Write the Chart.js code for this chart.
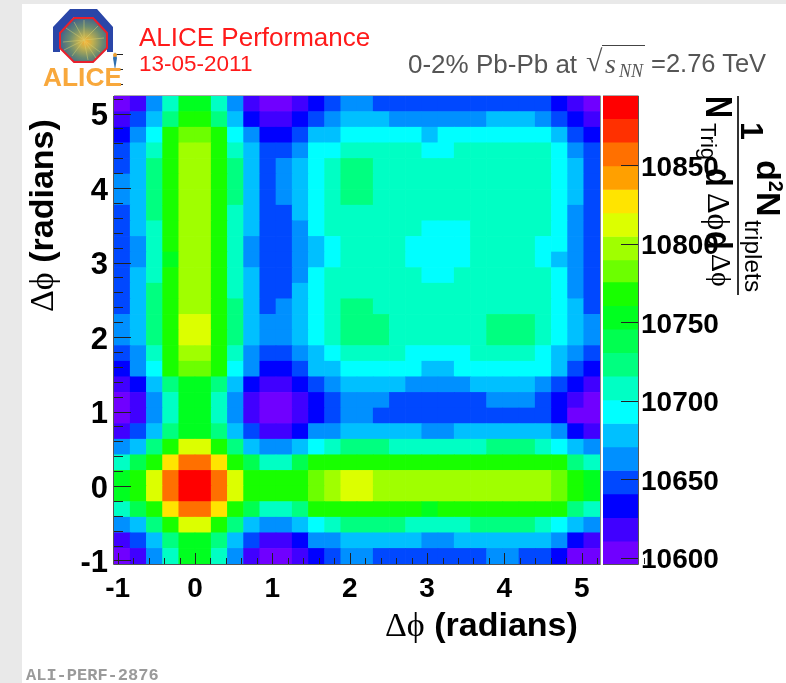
<!DOCTYPE html>
<html>
<head>
<meta charset="utf-8">
<title>ALICE Performance</title>
<script src="https://cdn.jsdelivr.net/npm/chart.js@4"></script>
<style>
    html, body { margin: 0; padding: 0; background: #fff; }
    #page { position: relative; width: 786px; height: 683px; overflow: hidden; background: #fff; filter: blur(0.4px); }
    #stripLeft { position: absolute; left: 0; top: 0; width: 22px; height: 683px; background: #e9e9e9; }
    #stripTop { position: absolute; left: 0; top: 0; width: 786px; height: 4px; background: #e9e9e9; }
    canvas { position: absolute; left: 0; top: 0; }
    .txt { position: absolute; white-space: nowrap; line-height: 1; font-family: "Liberation Sans", sans-serif; color: #000; }
    svg { position: absolute; left: 40px; top: 5px; }
</style>
</head>
<body>
<div id="page">
    <div id="stripLeft"></div>
    <div id="stripTop"></div>
    <canvas id="mapChart" width="786" height="683"></canvas>
    <canvas id="barChart" width="786" height="683"></canvas>
    <svg width="90" height="85" viewBox="40 5 90 85">
        <defs>
            <radialGradient id="core" cx="0.55" cy="0.55" r="0.6">
                <stop offset="0" stop-color="#ffb030"/>
                <stop offset="0.25" stop-color="#c0b050"/>
                <stop offset="0.6" stop-color="#6a8a70"/>
                <stop offset="1" stop-color="#3a5a90"/>
            </radialGradient>
        </defs>
        <polygon points="70,9 97,9 113,27 113,52 107,52 107,34 92,17 74,17 60,34 60,52 53,52 53,27" fill="#2a46a8"/>
        <polygon points="74,18 93,18 107,33 107,48 93,62 74,62 60,48 60,33" fill="url(#core)" stroke="#e8202c" stroke-width="2"/>
        <path d="M84 40L66 28M84 40L72 56M84 40L98 26M84 40L100 52M84 40L84 20M84 40L63 42M84 40L88 60M84 40L74 22M84 40L104 38M84 40L96 58M84 40L64 50" stroke="#d8d070" stroke-width="0.7" opacity="0.7"/>
        <path d="M115 52L117 58L115 70L113 58Z" fill="#2f6fb0"/>
        <circle cx="115" cy="55" r="2" fill="#f0a030"/>
        <text x="43" y="86" font-family="Liberation Sans" font-weight="bold" font-size="25" fill="#f8a83c" textLength="79" lengthAdjust="spacingAndGlyphs">ALICE</text>
    </svg>
</div>
<script>
    const xBinCenters = [-0.9425, -0.7330, -0.5236, -0.3142, -0.1047, 0.1047, 0.3142, 0.5236, 0.7330, 0.9425,
        1.1519, 1.3614, 1.5708, 1.7802, 1.9897, 2.1991, 2.4086, 2.6180, 2.8274, 3.0369,
        3.2463, 3.4558, 3.6652, 3.8746, 4.0841, 4.2935, 4.5029, 4.7124, 4.9218, 5.1313];
    const yBinCenters = xBinCenters.slice().reverse(); // rows below are listed top to bottom
    const binWidth = 0.2094;
    const xTicks = [-1, 0, 1, 2, 3, 4, 5];
    const yTicks = [-1, 0, 1, 2, 3, 4, 5];
    const zTicks = [10600, 10650, 10700, 10750, 10800, 10850];

    const tripletRows = [
        [10603,10618,10663,10708,10753,10753,10708,10663,10618,10603,10603,10618,10633,10648,10663,10663,10648,10648,10648,10648,10648,10648,10648,10648,10648,10648,10648,10633,10618,10603],
        [10618,10648,10678,10723,10768,10768,10723,10678,10633,10618,10618,10633,10648,10663,10678,10678,10678,10663,10663,10663,10663,10663,10663,10678,10678,10678,10663,10648,10633,10618],
        [10633,10663,10693,10768,10783,10783,10768,10693,10663,10633,10633,10648,10678,10678,10693,10693,10693,10693,10693,10678,10693,10693,10693,10693,10693,10693,10693,10678,10648,10633],
        [10648,10678,10708,10768,10797,10797,10768,10708,10678,10648,10648,10663,10693,10693,10708,10708,10708,10708,10708,10693,10693,10708,10708,10708,10708,10708,10708,10693,10663,10648],
        [10648,10678,10723,10768,10797,10797,10768,10723,10678,10648,10663,10678,10693,10708,10723,10723,10708,10708,10708,10708,10708,10708,10708,10708,10708,10708,10708,10693,10678,10648],
        [10663,10678,10723,10768,10797,10797,10768,10723,10678,10648,10663,10678,10693,10708,10723,10723,10708,10708,10708,10708,10708,10708,10708,10708,10708,10708,10708,10693,10678,10648],
        [10663,10678,10723,10768,10797,10797,10768,10723,10678,10648,10663,10678,10693,10708,10723,10723,10708,10708,10708,10708,10708,10708,10708,10708,10708,10708,10708,10693,10678,10648],
        [10648,10678,10723,10768,10797,10797,10768,10708,10678,10648,10648,10678,10693,10708,10708,10708,10708,10708,10708,10708,10708,10708,10708,10708,10708,10708,10708,10693,10663,10648],
        [10648,10678,10708,10768,10797,10797,10768,10708,10678,10648,10648,10663,10693,10708,10708,10708,10708,10708,10708,10693,10693,10693,10708,10708,10708,10708,10708,10693,10663,10648],
        [10648,10663,10708,10768,10797,10797,10768,10708,10663,10648,10648,10663,10678,10693,10708,10708,10708,10708,10693,10693,10693,10693,10708,10708,10708,10708,10693,10693,10663,10648],
        [10648,10663,10708,10753,10797,10797,10768,10708,10663,10648,10648,10663,10678,10693,10708,10708,10708,10708,10693,10693,10693,10693,10708,10708,10708,10708,10693,10678,10663,10648],
        [10648,10678,10708,10768,10797,10797,10768,10708,10678,10648,10648,10663,10693,10708,10708,10708,10708,10708,10708,10693,10693,10708,10708,10708,10708,10708,10708,10693,10663,10648],
        [10648,10678,10723,10768,10797,10797,10768,10708,10678,10648,10648,10678,10693,10708,10708,10708,10708,10708,10708,10708,10708,10708,10708,10708,10708,10708,10708,10693,10663,10648],
        [10648,10678,10723,10768,10797,10797,10768,10723,10678,10648,10663,10678,10693,10708,10723,10723,10708,10708,10708,10708,10708,10708,10708,10708,10708,10708,10708,10693,10678,10648],
        [10663,10678,10723,10768,10812,10812,10768,10723,10678,10663,10663,10678,10693,10708,10723,10723,10723,10708,10708,10708,10708,10708,10708,10723,10723,10723,10708,10693,10678,10663],
        [10663,10678,10723,10768,10812,10812,10768,10723,10678,10663,10663,10678,10693,10708,10723,10723,10723,10708,10708,10708,10708,10708,10708,10723,10723,10723,10708,10693,10678,10663],
        [10648,10663,10708,10768,10797,10797,10768,10708,10663,10648,10648,10663,10678,10693,10708,10708,10708,10708,10693,10693,10693,10693,10708,10708,10708,10708,10693,10678,10663,10648],
        [10633,10663,10693,10768,10783,10783,10768,10693,10663,10633,10633,10648,10678,10678,10693,10693,10693,10693,10693,10678,10678,10693,10693,10693,10693,10693,10693,10678,10648,10633],
        [10618,10633,10678,10723,10753,10753,10723,10678,10633,10618,10618,10633,10648,10663,10678,10678,10678,10678,10663,10663,10663,10663,10678,10678,10678,10678,10663,10648,10633,10618],
        [10603,10618,10663,10708,10753,10753,10708,10663,10618,10603,10603,10618,10633,10648,10663,10663,10663,10648,10648,10648,10648,10648,10648,10663,10663,10663,10648,10633,10618,10603],
        [10603,10618,10663,10708,10753,10753,10708,10663,10618,10603,10603,10618,10633,10648,10663,10663,10648,10648,10648,10648,10648,10648,10648,10648,10648,10648,10648,10633,10603,10603],
        [10618,10648,10678,10723,10753,10753,10723,10678,10648,10618,10618,10633,10663,10663,10678,10678,10678,10678,10678,10663,10663,10678,10678,10678,10678,10678,10678,10663,10633,10618],
        [10663,10678,10723,10768,10812,10812,10768,10723,10678,10663,10663,10678,10693,10708,10723,10723,10723,10708,10708,10708,10708,10708,10708,10723,10723,10723,10708,10693,10678,10663],
        [10708,10738,10768,10827,10857,10857,10827,10768,10738,10708,10708,10738,10768,10768,10768,10768,10768,10768,10768,10768,10768,10768,10768,10768,10768,10768,10768,10768,10723,10708],
        [10753,10768,10812,10857,10887,10887,10857,10812,10768,10768,10768,10768,10783,10797,10812,10812,10797,10797,10797,10797,10797,10797,10797,10797,10797,10797,10797,10783,10768,10753],
        [10753,10768,10812,10857,10887,10887,10857,10812,10768,10768,10768,10768,10783,10797,10812,10812,10797,10797,10797,10797,10797,10797,10797,10797,10797,10797,10797,10783,10768,10753],
        [10708,10738,10768,10827,10857,10857,10827,10768,10738,10708,10708,10723,10768,10768,10768,10768,10768,10768,10768,10753,10768,10768,10768,10768,10768,10768,10768,10768,10723,10708],
        [10663,10678,10723,10768,10812,10812,10768,10723,10678,10663,10663,10678,10693,10708,10723,10723,10723,10723,10708,10708,10708,10708,10723,10723,10723,10723,10708,10693,10678,10663],
        [10618,10648,10678,10723,10753,10753,10723,10678,10648,10618,10618,10633,10663,10663,10678,10678,10678,10678,10678,10663,10663,10678,10678,10678,10678,10678,10678,10663,10633,10618],
        [10603,10618,10663,10708,10753,10753,10708,10663,10618,10603,10603,10618,10633,10648,10663,10663,10648,10648,10648,10648,10648,10648,10648,10663,10663,10648,10648,10633,10603,10603]
    ];

    // colour bar levels, bottom to top
    const zLevels = [10603, 10618, 10633, 10648, 10663, 10678, 10693, 10708, 10723, 10738,
        10753, 10768, 10783, 10797, 10812, 10827, 10842, 10857, 10872, 10887];
    const zColors = ['#7000ff', '#4000ff', '#0000ff', '#0048ff', '#0090ff', '#00c0ff', '#00ffff', '#00ffc4', '#00ff80', '#00ff50',
        '#00ff20', '#18ff00', '#6cff00', '#a0ff00', '#dcff00', '#ffe400', '#ffa000', '#ff7000', '#ff3000', '#ff0000'];
    const zMin = 10596, zMax = 10894, zBand = 14.9;

    function colorFor(value) {
        const i = Math.floor((value - zMin) / zBand);
        return zColors[Math.max(0, Math.min(zColors.length - 1, i))];
    }

    // ========== Tick marks and frame (root style, inside the frame) ==========
    const frameTicks = {
        id: 'frameTicks',
        afterDatasetsDraw(chart, args, opts) {
            const c = chart.ctx, a = chart.chartArea;
            c.save();
            c.lineWidth = 1;
            c.strokeStyle = '#222';
            const xs = chart.scales.x, ys = chart.scales.y;
            c.beginPath();
            (opts.xMarks || []).forEach(m => {
                const p = Math.round(xs.getPixelForValue(m.v)) + 0.5;
                c.moveTo(p, a.bottom);
                c.lineTo(p, a.bottom - m.len);
            });
            (opts.yMarks || []).forEach(m => {
                const p = Math.round(ys.getPixelForValue(m.v)) + 0.5;
                c.moveTo(opts.yFromRight ? a.right : a.left, p);
                c.lineTo(opts.yFromRight ? a.right - m.len : a.left + m.len, p);
            });
            c.stroke();
            // top and right edges are paler than the bottom and left ones
            c.strokeStyle = '#aaa';
            c.beginPath();
            c.moveTo(a.left, a.top - 0.5);
            c.lineTo(a.right + 0.5, a.top - 0.5);
            c.stroke();
            c.strokeStyle = opts.yFromRight ? '#555' : '#888';
            c.beginPath();
            c.moveTo(a.right + 0.5, a.top);
            c.lineTo(a.right + 0.5, a.bottom + 0.5);
            c.stroke();
            c.strokeStyle = '#555';
            c.beginPath();
            c.moveTo(a.left - (opts.yFromRight ? 0 : 0.5), a.bottom + 0.5);
            c.lineTo(a.right + 0.5, a.bottom + 0.5);
            if (!opts.yFromRight) {
                c.moveTo(a.left - 0.5, a.top);
                c.lineTo(a.left - 0.5, a.bottom + 0.5);
            }
            c.stroke();
            c.restore();
        }
    };

    function withMinor(major, majorLen, minorLen) {
        const marks = [];
        major.forEach(v => {
            marks.push({ v: v, len: majorLen });
            for (let k = 1; k < 5; k++) {
                marks.push({ v: v + k * 0.2, len: minorLen });
            }
        });
        return marks;
    }

    const tickFont = { family: '"Liberation Sans"', size: 28, weight: 'bold' };

    // ========== Map ==========
    const cells = [];
    tripletRows.forEach((row, r) => {
        row.forEach((value, c) => {
            const yc = yBinCenters[r];
            cells.push({ x: xBinCenters[c], y: [yc - binWidth / 2, yc + binWidth / 2], z: value });
        });
    });

    new Chart(document.getElementById('mapChart'), {
        type: 'bar',
        data: {
            datasets: [{
                label: 'triplets',
                data: cells,
                borderWidth: 0,
                barPercentage: 1,
                categoryPercentage: 1,
                backgroundColor: ctx => colorFor(ctx.raw.z)
            }]
        },
        options: {
            responsive: false,
            animation: false,
            layout: { padding: { left: 0, top: 96, right: 186, bottom: 0 } },
            plugins: {
                legend: { display: false },
                tooltip: { enabled: false },
                frameTicks: {
                    xMarks: withMinor(xTicks, 11, 6),
                    yMarks: withMinor(yTicks, 17, 9)
                }
            },
            scales: {
                x: {
                    type: 'linear',
                    offset: false,
                    min: -1.0472,
                    max: 5.236,
                    grid: { display: false, drawTicks: false },
                    border: { display: false },
                    afterBuildTicks: s => { s.ticks = xTicks.map(v => ({ value: v })); },
                    afterFit: s => { s.height = 119; },
                    ticks: { color: '#000', font: tickFont, padding: 8, maxRotation: 0, autoSkip: false }
                },
                y: {
                    type: 'linear',
                    min: -1.0472,
                    max: 5.236,
                    grid: { display: false, drawTicks: false },
                    border: { display: false },
                    afterBuildTicks: s => { s.ticks = yTicks.map(v => ({ value: v })); },
                    afterFit: s => { s.width = 114; },
                    ticks: { color: '#000', font: { family: '"Liberation Sans"', size: 31, weight: 'bold' }, padding: 6, labelOffset: 3, autoSkip: false }
                }
            }
        },
        plugins: [frameTicks]
    });

    // ========== Colour bar ==========
    new Chart(document.getElementById('barChart'), {
        type: 'bar',
        data: {
            datasets: [{
                label: 'levels',
                data: zLevels.map(v => ({ x: 0.5, y: [v - zBand / 2, v + zBand / 2] })),
                borderWidth: 0,
                barPercentage: 1,
                categoryPercentage: 1,
                backgroundColor: zColors
            }]
        },
        options: {
            responsive: false,
            animation: false,
            layout: { padding: { left: 603, top: 96, right: 0, bottom: 119 } },
            plugins: {
                legend: { display: false },
                tooltip: { enabled: false },
                frameTicks: {
                    yFromRight: true,
                    yMarks: zTicks.map(v => ({ v: v, len: 17 }))
                }
            },
            scales: {
                x: { type: 'linear', offset: false, min: 0, max: 1, display: false },
                y: {
                    type: 'linear',
                    position: 'right',
                    min: zMin,
                    max: zMax,
                    grid: { display: false, drawTicks: false },
                    border: { display: false },
                    afterBuildTicks: s => { s.ticks = zTicks.map(v => ({ value: v })); },
                    afterFit: s => { s.width = 148; },
                    ticks: { color: '#000', font: tickFont, padding: 3, labelOffset: 3, autoSkip: false, callback: v => String(v) }
                }
            }
        },
        plugins: [frameTicks]
    });

    // ========== Text around the plot ==========
    function addText(text, x, y, css, rot) {
        const el = document.createElement('div');
        el.className = 'txt';
        el.innerHTML = text;
        el.style.left = x + 'px';
        el.style.top = y + 'px';
        el.style.cssText += css || '';
        if (rot) {
            el.style.transformOrigin = 'left top';
            el.style.transform = rot;
        }
        document.getElementById('page').appendChild(el);
    }

    const serif = 'font-family:"Liberation Serif";font-weight:normal;';
    const axisTitle = '<span style=\'' + serif.replace(/"/g, '') + '\'>Δϕ</span> (radians)';
    const down = 'rotate(90deg)';

    addText('ALICE Performance', 139, 24, 'color:#ff1a1a;font-size:26px;');
    addText('13-05-2011', 139, 53, 'color:#ff1a1a;font-size:22.5px;');
    addText('0-2% Pb-Pb at', 408, 51, 'color:#555;font-size:26px;');
    addText('√', 586, 46, 'color:#555;font-size:30px;' + serif);
    addText('', 602, 45, 'width:43px;height:1px;border-top:1.5px solid #444;');
    addText('s', 605, 50, 'color:#555;font-size:28px;font-style:italic;' + serif);
    addText('NN', 619, 62, 'color:#555;font-size:18px;font-style:italic;' + serif);
    addText('=2.76 TeV', 651, 51, 'color:#555;font-size:25.5px;');

    addText(axisTitle, 385, 607, 'font-size:34px;font-weight:bold;');
    addText(axisTitle, 24, 312, 'font-size:34px;font-weight:bold;', 'rotate(-90deg)');

    // z title, turned clockwise: fraction bar and the pieces on both sides
    addText('', 737, 96, 'width:1.5px;height:199px;background:#333;');
    addText('1', 768, 122, 'font-size:32px;font-weight:bold;', down);
    addText('d<sup style="font-size:20px;line-height:0">2</sup>N', 786, 160, 'font-size:34px;font-weight:bold;', down);
    addText('triplets', 765, 220, 'font-size:24.5px;', down);
    addText('N', 736, 96, 'font-size:36px;font-weight:bold;', down + ' scale(0.85,1)');
    addText('Trig', 719, 123, 'font-size:22px;', down);
    addText('d', 736, 168, 'font-size:36px;font-weight:bold;', down + ' scale(0.85,1)');
    addText('Δϕ', 735, 193, 'font-size:32px;' + serif, down);
    addText('d', 736, 231, 'font-size:36px;font-weight:bold;', down + ' scale(0.85,1)');
    addText('Δϕ', 735, 254, 'font-size:28px;' + serif, down);

    addText('ALI-PERF-2876', 26, 667, 'color:#9a9a9a;font-family:"Liberation Mono";font-weight:bold;font-size:17px;');
</script>
</body>
</html>
